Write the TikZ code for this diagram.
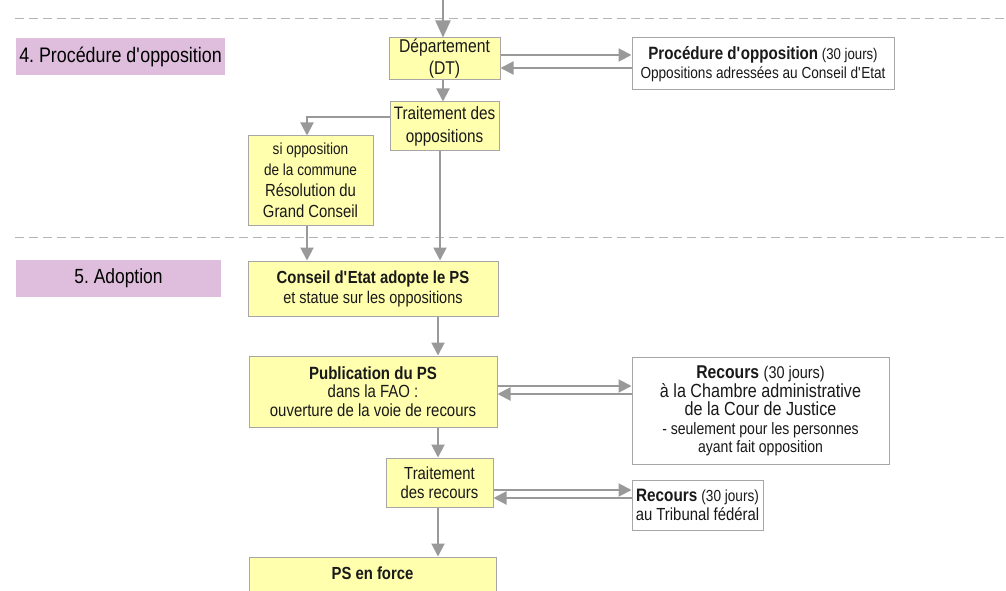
\documentclass[tikz,border=0pt]{standalone}
\usepackage{fontspec}
\setmainfont{Liberation Sans}[FakeStretch=0.85]
\usetikzlibrary{arrows.meta}

\definecolor{boxyellow}{HTML}{FFFFAE}
\definecolor{boxgray}{HTML}{A6A6A6}
\definecolor{arrgray}{HTML}{999999}
\definecolor{labpurple}{HTML}{DEBEDC}
\definecolor{dashgray}{HTML}{B4B4B4}

\newcommand\fsz[2]{\fontsize{#1}{#2}\selectfont}
\newcommand\ap{\textquotesingle}
\frenchspacing

\begin{document}
\begin{tikzpicture}[
  x=1pt, y=-1pt,
  box/.style={draw=boxgray, fill=boxyellow, line width=1pt, align=center,
    inner sep=0pt, text=black!90},
  wbox/.style={box, fill=white},
  lab/.style={fill=labpurple, inner sep=0pt, minimum height=37pt,
    font=\fsz{21}{24}\frenchspacing},
  arr/.style={draw=arrgray, line width=2pt,
    -{Triangle[length=13pt, width=13pt]}},
  sep/.style={draw=dashgray, line width=1pt, dash pattern=on 9pt off 5pt},
]
  \useasboundingbox (0,0) rectangle (1006,591);
  \clip (0,0) rectangle (1006,591);

  % phase separators
  \draw[sep] (15,19) -- (1006,19);
  \draw[sep] (15,237) -- (1006,237);

  % phase labels
  \node[lab, minimum width=209pt]
    (lab4) at (120.5,56.5) {4. Procédure d\ap opposition};
  \node[lab, minimum width=205pt, font=\fsz{20.5}{24}\frenchspacing]
    (lab5) at (118.5,278.5) {5. Adoption};

  % 4. opposition
  \coordinate (top) at (443,0);
  \node[box, minimum width=111pt, minimum height=42pt, font=\fsz{18.5}{22}]
    (dep) at (444.5,59) {Département\\(DT)};
  \node[wbox, minimum width=262pt, minimum height=52pt, font=\fsz{16}{19}]
    (proc) at (763,64)
    {{\fsz{17.8}{19}\textbf{Procédure d\ap opposition}} {\fsz{15.5}{19}(30 jours)}\\
     Oppositions adressées au Conseil d\ap Etat};
  \node[box, minimum width=109pt, minimum height=48pt, font=\fsz{18}{23}]
    (trop) at (444.5,126) {Traitement des\\oppositions};
  \node[box, minimum width=125pt, minimum height=89pt, font=\fsz{16}{21}]
    (siopp) at (310.5,180.5)
    {si opposition\\de la commune\\
     {\fsz{17.5}{21}Résolution du}\\{\fsz{17.5}{21}Grand Conseil}};

  % 5. adoption
  \node[box, minimum width=250pt, minimum height=55pt, font=\fsz{17}{20}]
    (cons) at (373,288.5)
    {{\fsz{17.5}{20}\bfseries Conseil d\ap Etat adopte le PS}\\et statue sur les oppositions};
  \node[box, minimum width=248pt, minimum height=71pt, font=\fsz{17.6}{18.5}]
    (pub) at (373,391.5)
    {{\fsz{17.7}{18.5}\bfseries Publication du PS}\\dans la FAO :\\ouverture de la voie de recours};
  \node[wbox, minimum width=257pt, minimum height=107pt, font=\fsz{19}{18.5}]
    (rec1) at (760.5,411)
    {{\fsz{18.5}{18.5}\bfseries Recours} {\fsz{17}{18.5}(30 jours)}\\
     à la Chambre administrative\\de la Cour de Justice\\
     {\fsz{16.5}{18.5}- seulement pour les personnes}\\
     {\fsz{16.5}{18.5}ayant fait opposition}};
  \node[box, minimum width=107pt, minimum height=49pt, font=\fsz{17.5}{19}]
    (trrec) at (439.5,482.5) {Traitement\\des recours};
  \node[wbox, minimum width=131pt, minimum height=50pt, font=\fsz{17.5}{19}]
    (rec2) at (697.5,505)
    {{\fsz{18}{19}\bfseries Recours} {\fsz{16}{19}(30 jours)}\\au Tribunal fédéral};
  \node[box, minimum width=247pt, text height=22.5pt, text depth=21pt,
    anchor=base, font=\fsz{17.5}{20}\bfseries]
    (force) at (372.5,579.5) {PS en force};

  % connectors
  \draw[arr, -{Triangle[length=17pt, width=15pt]}] (top) -- (top |- dep.north);
  \draw[arr] ([xshift=-1.5pt]dep.south) -- ([xshift=-1.5pt]trop.north);
  \draw[arr] ([yshift=4pt]dep.east) -- ([yshift=4pt]dep.east -| proc.west);
  \draw[arr] ([yshift=-4pt]proc.west) -- ([yshift=-4pt]proc.west -| dep.east);
  \draw[arr] ([yshift=9pt]trop.west) -| ([xshift=-3.5pt]siopp.north);
  \draw[arr] ([xshift=-3.5pt]siopp.south) -- ([xshift=-3.5pt]siopp.south |- cons.north);
  \draw[arr] ([xshift=-4.5pt]trop.south) -- ([xshift=-4.5pt]trop.south |- cons.north);
  \draw[arr] ([xshift=65pt]cons.south) -- ([xshift=65pt]pub.north);
  \draw[arr] ([yshift=5.5pt]pub.east) -- ([yshift=5.5pt]pub.east -| rec1.west);
  \draw[arr] ([yshift=17pt]rec1.west) -- ([yshift=17pt]rec1.west -| pub.east);
  \draw[arr] ([xshift=65pt]pub.south) -- ([xshift=65pt]pub.south |- trrec.north);
  \draw[arr] ([xshift=-1.5pt]trrec.south) -- ([xshift=-1.5pt]trrec.south |- force.north);
  \draw[arr] ([yshift=-7.5pt]trrec.east) -- ([yshift=-7.5pt]trrec.east -| rec2.west);
  \draw[arr] ([yshift=7pt]rec2.west) -- ([yshift=7pt]rec2.west -| trrec.east);
\end{tikzpicture}
\end{document}
